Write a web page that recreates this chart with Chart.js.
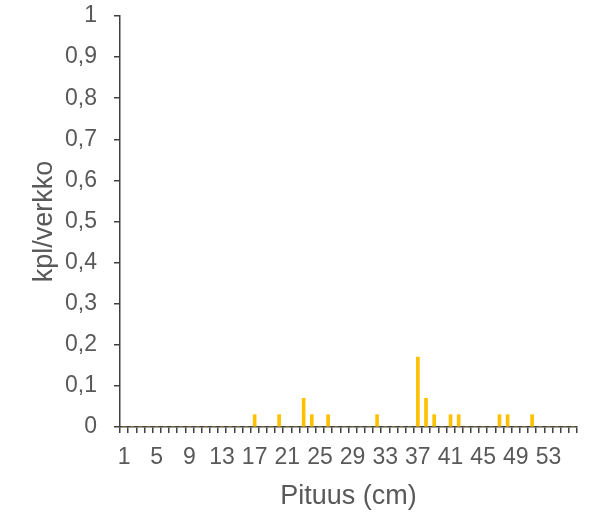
<!DOCTYPE html>
<html><head><meta charset="utf-8">
<script src="https://cdn.jsdelivr.net/npm/chart.js@4/dist/chart.umd.min.js"></script>
<style>html,body{margin:0;padding:0;background:#fff}#wrap{width:596px;height:513px}</style>
</head><body><div id="wrap"><canvas id="c" width="596" height="513"></canvas></div>
<script>
const categories = [1,2,3,4,5,6,7,8,9,10,11,12,13,14,15,16,17,18,19,20,21,22,23,24,25,26,27,28,29,30,31,32,33,34,35,36,37,38,39,40,41,42,43,44,45,46,47,48,49,50,51,52,53,54,55,56];
const values = [0,0,0,0,0,0,0,0,0,0,0,0,0,0,0,0,0.03,0,0,0.03,0,0,0.07,0.03,0,0.03,0,0,0,0,0,0.03,0,0,0,0,0.17,0.07,0.03,0,0.03,0.03,0,0,0,0,0.03,0.03,0,0,0.03,0,0,0,0,0];
const yTicks = [0,0.1,0.2,0.3,0.4,0.5,0.6,0.7,0.8,0.9,1];
const xTitle = 'Pituus (cm)';
const yTitle = 'kpl/verkko';
const txt = '#595959';
const fam = 'Liberation Sans, Arial, sans-serif';
new Chart(document.getElementById('c'), {
  type: 'bar',
  data: { labels: categories.map(String), datasets: [{ data: values, backgroundColor: '#FFC000', barThickness: 3 }] },
  options: {
    responsive: false, animation: false,
    layout: { padding: { top: 16, right: 19, left: 28, bottom: 0 } },
    plugins: { legend: { display: false }, tooltip: { enabled: false } },
    scales: {
      x: {
        offset: true,
        grid: { offset: true, drawOnChartArea: false, drawTicks: true, tickLength: 6, color: '#404040', lineWidth: 1.5 },
        border: { color: '#404040', width: 1.5 },
        ticks: { autoSkip: false, maxRotation: 0, color: txt, font: { family: fam, size: 23 }, padding: 11,
          callback: function(v, i) { return i % 4 === 0 ? categories[i] : ''; } },
        title: { display: true, text: xTitle, color: txt, font: { family: fam, size: 27 }, padding: { top: 0, bottom: 0 } },
        afterFit: function(s) { s.height = 86; s.paddingLeft = 0; s.paddingRight = 0; }
      },
      y: {
        min: 0, max: 1,
        afterBuildTicks: function(s) { s.ticks = yTicks.map(v => ({ value: v })); },
        grid: { drawOnChartArea: false, drawTicks: true, tickLength: 6, color: '#404040', lineWidth: 1.5 },
        border: { color: '#404040', width: 1.5 },
        ticks: { color: txt, font: { family: fam, size: 23 }, padding: 17,
          callback: function(v) { return String(Math.round(v * 10) / 10).replace('.', ','); } },
        title: { display: true, text: yTitle, color: txt, font: { family: fam, size: 27 }, padding: { top: 0, bottom: 0 } },
        afterFit: function(s) { s.width = 92; s.paddingTop = 0; s.paddingBottom = 0; }
      }
    }
  }
});
</script></body></html>
